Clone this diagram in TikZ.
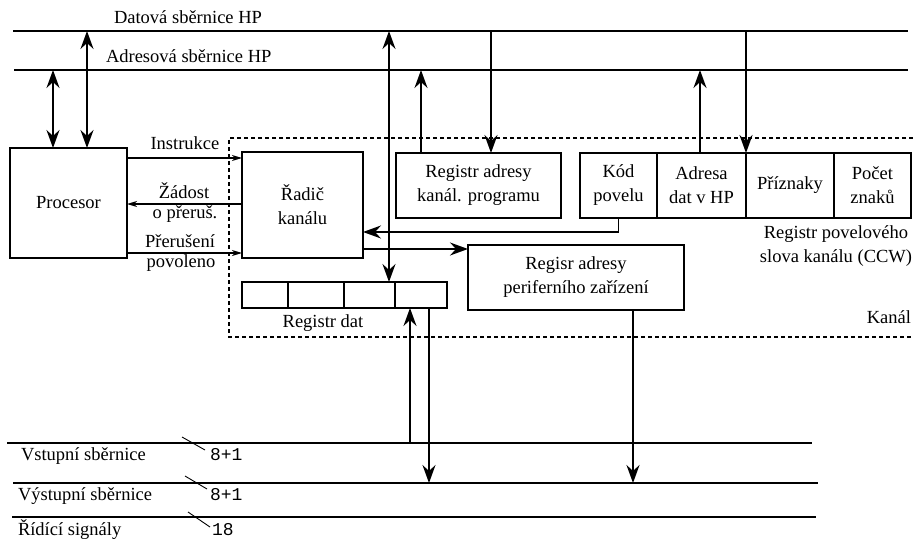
\documentclass[tikz,border=0pt]{standalone}
\usepackage{fontspec}
\setmainfont{Liberation Serif}
\newfontfamily\digitfont{Liberation Mono}
\usetikzlibrary{arrows.meta}

\begin{document}
\begin{tikzpicture}[x=1pt,y=-1pt,
  font=\fontsize{18.5}{24}\selectfont,
  blk/.style={draw,line width=1.9pt,inner sep=0pt,outer sep=0pt,align=center},
  busline/.style={line width=2.7pt},
  bigarr/.style={line width=1.9pt,arrows={-Stealth[length=18pt,width=13pt,inset=6pt]}},
  bigboth/.style={line width=1.9pt,arrows={Stealth[length=18pt,width=13pt,inset=6pt]-Stealth[length=18pt,width=13pt,inset=6pt]}},
  smallarr/.style={line width=1.3pt,arrows={-Stealth[length=10pt,width=6pt,inset=3pt]}},
  chanline/.style={line width=1.6pt,dash pattern=on 4pt off 3pt},
  tick/.style={line width=0.9pt},
  lbl/.style={inner sep=0pt,outer sep=0pt},
  widthlbl/.style={inner sep=0pt,outer sep=0pt,anchor=base west,font=\digitfont\fontsize{18}{20}\selectfont}
]
\useasboundingbox (0,0) rectangle (913,543);

% ---- system buses ----
\coordinate (dbL) at (13,31);  \coordinate (dbR) at (908,31);
\coordinate (abL) at (14,70);  \coordinate (abR) at (908,70);
\draw[busline] (dbL) -- (dbR);
\draw[busline] (abL) -- (abR);
\node[lbl,anchor=base west] (dbtxt) at (114,24) {Datová sběrnice HP};
\node[lbl,anchor=base west] (abtxt) at (106,63) {Adresová sběrnice HP};

% ---- channel boundary ----
\draw[chanline] (913,138) -| (229,337) -- (913,337);
\node[lbl,anchor=base east] (kanal) at (911,323) {Kanál};

% ---- blocks ----
\node[blk,minimum width=117pt,minimum height=110pt] (proc) at (68.5,203) {Procesor};
\node[blk,minimum width=121pt,minimum height=106pt] (radic) at (302.5,205) {Řadič\\kanálu};
\node[blk,minimum width=165pt,minimum height=65pt] (rak) at (478.5,185.5) {Registr adresy\\kanál. programu};
\node[blk,minimum width=216pt,minimum height=65pt] (rap) at (576,277.5) {Regisr adresy\\periferního zařízení};

% command word register (CCW)
\node[blk,minimum width=77pt,minimum height=65pt] (kod) at (618.5,185.5) {Kód\\povelu};
\node[blk,minimum width=89pt,minimum height=65pt] (adr) at (701.5,185.5) {Adresa\\dat v HP};
\node[blk,minimum width=88pt,minimum height=65pt] (priz) at (790,185.5) {Příznaky};
\node[blk,minimum width=77pt,minimum height=65pt] (pocet) at (872.5,185.5) {Počet\\znaků};
\node[lbl,anchor=base] (ccwtxt1) at (836,238) {Registr povelového};
\node[lbl,anchor=base] (ccwtxt2) at (836,262) {slova kanálu (CCW)};

% data register
\node[blk,minimum width=46pt,minimum height=26pt] (d1) at (265,295) {};
\node[blk,minimum width=56pt,minimum height=26pt] (d2) at (316,295) {};
\node[blk,minimum width=51pt,minimum height=26pt] (d3) at (369.5,295) {};
\node[blk,minimum width=52pt,minimum height=26pt] (d4) at (421,295) {};
\node[lbl,anchor=base] (rdtxt) at (323,327) {Registr dat};

% ---- vertical positions of bus connections ----
\coordinate (v1) at (53,0);
\coordinate (v2) at (87,0);
\coordinate (v3) at (389,0);
\coordinate (v4) at (421,0);
\coordinate (v5) at (491,0);
\coordinate (v6) at (700,0);
\coordinate (v7) at (746,0);
\coordinate (v8) at (410,0);
\coordinate (v9) at (429,0);
\coordinate (v10) at (633,0);
\coordinate (h1) at (0,232);
\coordinate (h2) at (0,249);
\coordinate (h3) at (0,158);
\coordinate (h4) at (0,204);
\coordinate (h5) at (0,253);

% processor <-> buses
\draw[bigboth] (v1 |- abL) -- (v1 |- proc.north);
\draw[bigboth] (v2 |- dbL) -- (v2 |- proc.north);
% data bus <-> data register
\draw[bigboth] (v3 |- dbL) -- (v3 |- d3.north);
% channel registers <-> buses
\draw[bigarr] (v4 |- rak.north) -- (v4 |- abL);
\draw[bigarr] (v5 |- dbL) -- (v5 |- rak.north);
\draw[bigarr] (v6 |- adr.north) -- (v6 |- abL);
\draw[bigarr] (v7 |- dbL) -- (v7 |- adr.north);

% channel control paths
\draw[bigarr] (kod.south) |- (radic.east |- h1);
\draw[bigarr] (radic.east |- h2) -- (rap.west |- h2);

% processor <-> channel controller signals
\draw[smallarr] (proc.east |- h3) -- (radic.west |- h3);
\draw[smallarr] (radic.west |- h4) -- (proc.east |- h4);
\draw[smallarr] (proc.east |- h5) -- (radic.west |- h5);
\node[lbl,anchor=base] (instr) at (185,149) {Instrukce};
\node[lbl,anchor=base] (zad1) at (184,198) {Žádost};
\node[lbl,anchor=base] (zad2) at (185,218) {o přeruš.};
\node[lbl,anchor=base] (pov1) at (180,247) {Přerušení};
\node[lbl,anchor=base] (pov2) at (181,267) {povoleno};

% ---- peripheral buses ----
\coordinate (ibL) at (7,443);  \coordinate (ibR) at (812,443);
\coordinate (obL) at (13,483); \coordinate (obR) at (818,483);
\coordinate (rbL) at (12,517); \coordinate (rbR) at (816,517);
\draw[busline] (ibL) -- (ibR);
\draw[busline] (obL) -- (obR);
\draw[busline] (rbL) -- (rbR);
\node[lbl,anchor=base west] (ibtxt) at (21,460) {Vstupní sběrnice};
\node[lbl,anchor=base west] (obtxt) at (18,500) {Výstupní sběrnice};
\node[lbl,anchor=base west] (rbtxt) at (18,535) {Řídící signály};

% bus widths
\draw[tick] (182,437) -- (205,450);
\draw[tick] (185,476) -- (207,489);
\draw[tick] (188,512) -- (210,527);
\node[widthlbl] (w1) at (210,460) {8+1};
\node[widthlbl] (w2) at (210,500) {8+1};
\node[widthlbl] (w3) at (212,535) {18};

% data register and device address register <-> peripheral buses
\draw[bigarr] (v8 |- ibL) -- (v8 |- d4.south);
\draw[bigarr] (v9 |- d4.south) -- (v9 |- obL);
\draw[bigarr] (v10 |- rap.south) -- (v10 |- obL);
\end{tikzpicture}
\end{document}
